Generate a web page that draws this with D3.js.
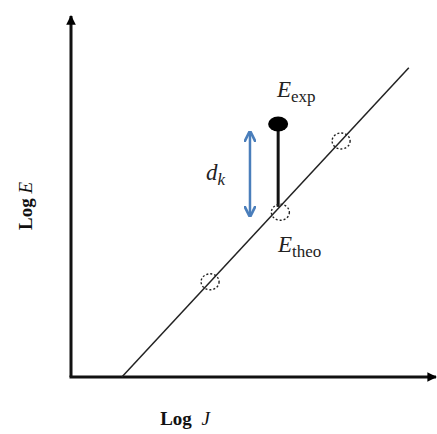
<!DOCTYPE html>
<html>
<head>
<meta charset="utf-8">
<script src="https://cdn.jsdelivr.net/npm/d3@7"></script>
<style>
body { margin: 0; background: #fff; }
</style>
</head>
<body>
<svg id="chart" width="437" height="434"></svg>
<script>
// fitted line (log J, log E)
var lineJ = [1.39, 9.23];
var lineE = [0, 8.54];
// theoretical points on the line
var theoJ = [3.80, 5.72, 7.38];
var theoE = [2.63, 4.55, 6.52];
// experimental point
var expJ = [5.66];
var expE = [6.99];
var stemE = [6.99, 4.70];
// d_k arrow
var arrowJ = 4.89;
var arrowE = [6.74, 4.48];

var svg = d3.select("#chart");

var x = d3.scaleLinear().domain([0, 10]).range([71, 437]);
var y = d3.scaleLinear().domain([0, 10]).range([377, 15]);

var defs = svg.append("defs");
defs.append("marker").attr("id", "axhead")
    .attr("viewBox", "0 0 10 10").attr("refX", 9).attr("refY", 5)
    .attr("markerWidth", 3.2).attr("markerHeight", 3.2).attr("orient", "auto")
  .append("path").attr("d", "M0,0L10,5L0,10z").attr("fill", "#000");
defs.append("marker").attr("id", "bluehead")
    .attr("viewBox", "0 0 10 10").attr("refX", 8).attr("refY", 5)
    .attr("markerWidth", 4.5).attr("markerHeight", 4.5).attr("orient", "auto-start-reverse")
  .append("path").attr("d", "M0,0L10,5L0,10").attr("fill", "none").attr("stroke", "#4a7ebb").attr("stroke-width", 2.4);

// axes
svg.append("line")
   .attr("x1", x(0)).attr("y1", y(0)).attr("x2", x(0)).attr("y2", y(10) + 1)
   .style("stroke", "#111").style("stroke-width", 3)
   .attr("marker-end", "url(#axhead)");
svg.append("line")
   .attr("x1", x(0) - 1.5).attr("y1", y(0)).attr("x2", x(10) - 1).attr("y2", y(0))
   .style("stroke", "#111").style("stroke-width", 3)
   .attr("marker-end", "url(#axhead)");

// fitted line
svg.append("line")
   .attr("x1", x(lineJ[0])).attr("y1", y(lineE[0])).attr("x2", x(lineJ[1])).attr("y2", y(lineE[1]))
   .style("stroke", "#222").style("stroke-width", 1.5);

// stem
svg.append("line")
   .attr("x1", x(expJ[0])).attr("y1", y(stemE[0])).attr("x2", x(expJ[0])).attr("y2", y(stemE[1]))
   .style("stroke", "#111").style("stroke-width", 3);

// theoretical points (dashed circles)
svg.selectAll(".theo").data(theoJ).enter().append("ellipse")
   .attr("class", "theo")
   .attr("cx", function(d){ return x(d); })
   .attr("cy", function(d, i){ return y(theoE[i]); })
   .attr("rx", 9).attr("ry", 8)
   .style("fill", "none").style("stroke", "#222").style("stroke-width", 1.4)
   .style("stroke-dasharray", "2,2");

// experimental point
svg.selectAll(".exp").data(expJ).enter().append("ellipse")
   .attr("class", "exp")
   .attr("cx", function(d){ return x(d); })
   .attr("cy", function(d, i){ return y(expE[i]); })
   .attr("rx", 10).attr("ry", 7.5)
   .style("fill", "#000");

// d_k arrow
svg.append("line")
   .attr("x1", x(arrowJ)).attr("y1", y(arrowE[0])).attr("x2", x(arrowJ)).attr("y2", y(arrowE[1]))
   .style("stroke", "#4a7ebb").style("stroke-width", 2.5)
   .attr("marker-start", "url(#bluehead)").attr("marker-end", "url(#bluehead)");

// labels
var serif = "'Liberation Serif', 'DejaVu Serif', serif";

var t1 = svg.append("text").attr("x", 277).attr("y", 97)
   .style("font-family", serif).style("font-size", "23px").style("fill", "#222");
t1.append("tspan").text("E").style("font-style", "italic");
t1.append("tspan").text("exp").attr("dy", 5).style("font-size", "17px");

var t2 = svg.append("text").attr("x", 278).attr("y", 252)
   .style("font-family", serif).style("font-size", "23px").style("fill", "#222");
t2.append("tspan").text("E").style("font-style", "italic");
t2.append("tspan").text("theo").attr("dy", 5).style("font-size", "17px");

var t3 = svg.append("text").attr("x", 206).attr("y", 180)
   .style("font-family", serif).style("font-size", "23px").style("fill", "#222").style("font-style", "italic");
t3.append("tspan").text("d");
t3.append("tspan").text("k").attr("dy", 5).style("font-size", "17px");

var t4 = svg.append("text").attr("x", 185).attr("y", 425).attr("text-anchor", "middle")
   .style("font-family", serif).style("font-size", "19px").style("fill", "#111");
t4.append("tspan").text("Log ").style("font-weight", "bold");
t4.append("tspan").text("\u00a0J").style("font-style", "italic");

var t5 = svg.append("text").attr("transform", "translate(32,206) rotate(-90)").attr("text-anchor", "middle")
   .style("font-family", serif).style("font-size", "19px").style("fill", "#111");
t5.append("tspan").text("Log ").style("font-weight", "bold");
t5.append("tspan").text("E").style("font-style", "italic");
</script>
</body>
</html>
